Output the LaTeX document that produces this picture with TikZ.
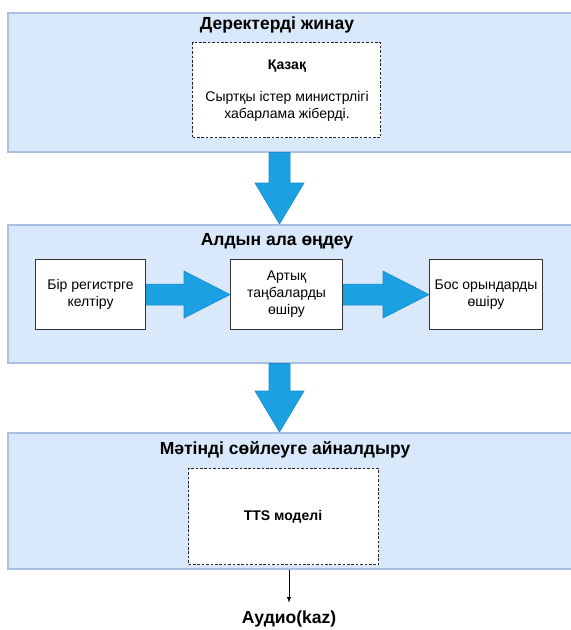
\documentclass[tikz,border=0pt]{standalone}
\usepackage{fontspec}
\setmainfont{Liberation Sans}
\usetikzlibrary{calc}
\definecolor{panelfill}{HTML}{DAE8FC}
\definecolor{paneldraw}{HTML}{A7C0E3}
\definecolor{arrowfill}{HTML}{1BA1E2}
\definecolor{arrowdraw}{HTML}{1A8CCB}
\begin{document}
\begin{tikzpicture}[x=1pt,y=-1pt,
  panel/.style={draw=paneldraw,fill=panelfill,line width=1.5pt,anchor=north west,inner sep=0pt},
  paneltitle/.style={font=\bfseries\fontsize{17.5}{20}\selectfont,inner sep=0pt},
  dashbox/.style={draw=black!85,fill=white,dash pattern=on 2.6pt off 1.8pt,line width=1pt,anchor=north west,inner sep=0pt},
  stepbox/.style={draw=black!80,fill=white,line width=1.1pt,anchor=north west,inner sep=0pt,
    minimum width=110pt,minimum height=70pt},
  boxtext/.style={font=\fontsize{14}{17}\selectfont,align=center,inner sep=0pt},
  dashtext/.style={font=\fontsize{14}{17}\selectfont,align=center,inner sep=0pt},
  vblock/.style={fill=arrowfill,draw=arrowdraw,line width=0.6pt,line join=miter,
    to path={($(\tikztostart)+(-10.5,0)$) -- ($(\tikztotarget)+(-10.5,-41)$)
      -- ($(\tikztotarget)+(-24.5,-41)$) -- (\tikztotarget)
      -- ($(\tikztotarget)+(24.5,-41)$) -- ($(\tikztotarget)+(10.5,-41)$)
      -- ($(\tikztostart)+(10.5,0)$) -- cycle}},
  hblock/.style={fill=arrowfill,draw=arrowdraw,line width=0.6pt,line join=miter,
    to path={($(\tikztostart)+(0,-10.5)$) -- ($(\tikztotarget)+(-46,-10.5)$)
      -- ($(\tikztotarget)+(-46,-23.5)$) -- (\tikztotarget)
      -- ($(\tikztotarget)+(-46,23.5)$) -- ($(\tikztotarget)+(-46,10.5)$)
      -- ($(\tikztostart)+(0,10.5)$) -- cycle}}
]
\useasboundingbox (0,0) rectangle (571,630);

% --- stage 1: data collection
\node[panel,minimum width=580pt,minimum height=139pt] (p1) at (7,12) {};
\node[paneltitle] (t1) at (277,25) {Деректерді жинау};
\node[dashbox,minimum width=188pt,minimum height=95pt] (d1) at (192,42) {};
\node[dashtext,font=\bfseries\fontsize{14}{17}\selectfont] (kz) at (287,66) {Қазақ};
\node[dashtext] (msg) at (287,106) {Сыртқы істер министрлігі\\хабарлама жіберді.};

% --- stage 2: preprocessing
\node[panel,minimum width=580pt,minimum height=138pt] (p2) at (7,224) {};
\node[paneltitle] (t2) at (277,241) {Алдын ала өңдеу};
\node[stepbox] (s1) at (35,259) {};
\node[boxtext] at (s1.center) {Бір регистрге\\келтіру};
\node[stepbox,minimum width=112pt] (s2) at (230,259) {};
\node[boxtext] at (s2.center) {Артық\\таңбаларды\\өшіру};
\node[stepbox,minimum width=113pt] (s3) at (429,259) {};
\node[boxtext] at (s3.center) {Бос орындарды\\өшіру};

% --- stage 3: text to speech
\node[panel,minimum width=580pt,minimum height=136pt] (p3) at (7,432) {};
\node[paneltitle] (t3) at (285,450) {Мәтінді сөйлеуге айналдыру};
\node[dashbox,minimum width=190pt,minimum height=96pt] (d3) at (188,468) {};
\node[dashtext,font=\bfseries\fontsize{14}{17}\selectfont] (tts) at (283,517) {TTS моделі};

\node[paneltitle] (out) at (289,619) {Аудио(kaz)};

% --- connectors
\coordinate (ax) at (279.5,0);
\coordinate (bx) at (289,0);
\draw[vblock] (p1.south -| ax) to (p2.north -| ax);
\draw[vblock] (p2.south -| ax) to (p3.north -| ax);
\draw[hblock] (s1.east) to (s2.west);
\draw[hblock] (s2.east) to (s3.west);
\draw[-latex,line width=0.9pt] (p3.south -| bx) -- ($(out.north)+(0,-8)$);
\end{tikzpicture}
\end{document}
